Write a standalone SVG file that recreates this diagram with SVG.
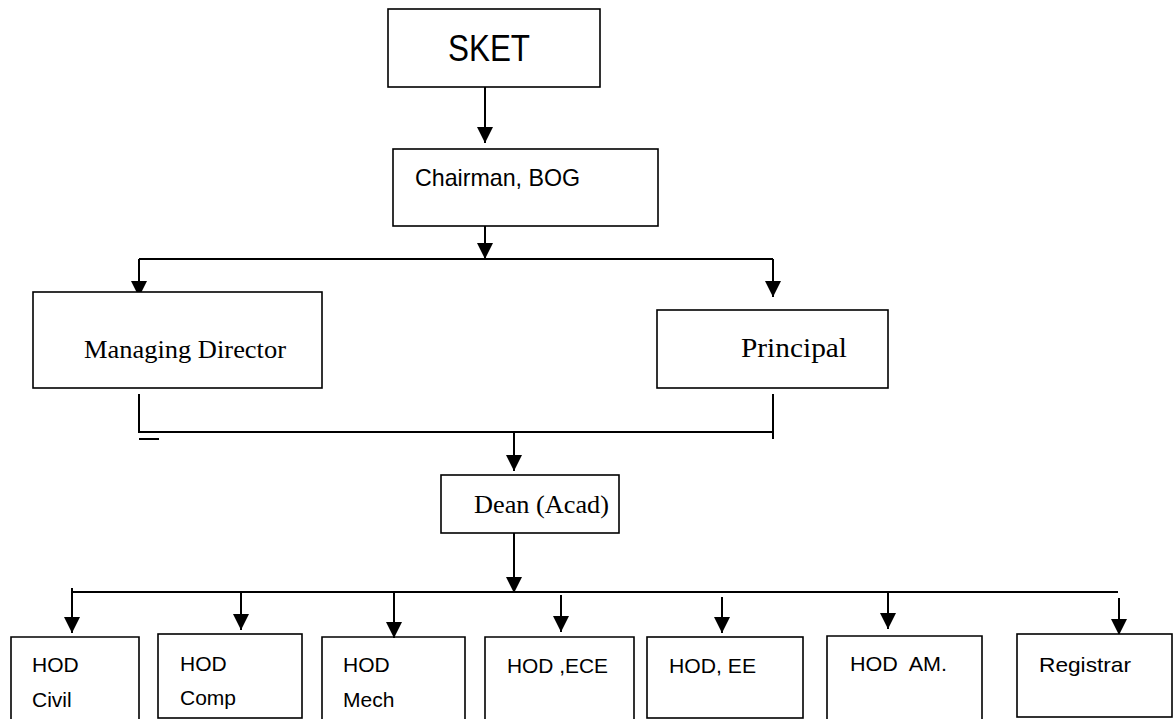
<svg xmlns="http://www.w3.org/2000/svg" width="1176" height="719" viewBox="0 0 1176 719">
<style>
.box{fill:#fff;stroke:#000;stroke-width:1.6}
.open{fill:none;stroke:#000;stroke-width:1.6}
.c{fill:none;stroke:#000;stroke-width:2}
.sans{font-family:"Liberation Sans",Arial,sans-serif;fill:#000}
.serif{font-family:"Liberation Serif","Times New Roman",serif;fill:#000}
.s20{font-size:21px}
</style>
<defs>
<marker id="ah" markerUnits="userSpaceOnUse" markerWidth="16" markerHeight="16" viewBox="0 0 15 15" refX="15" refY="7.5" orient="auto">
<path d="M0,0 L15,7.5 L0,15 z" fill="#000"/>
</marker>
</defs>
<rect width="1176" height="719" fill="#fff"/>
<g id="connectors">
<path class="c" d="M485,87 V143" marker-end="url(#ah)"/>
<path class="c" d="M485,226 V259" marker-end="url(#ah)"/>
<path class="c" d="M139,259 H773"/>
<path class="c" d="M139,259 V297" marker-end="url(#ah)"/>
<path class="c" d="M773,259 V297" marker-end="url(#ah)"/>
<path class="c" d="M139,394 V432 H773"/>
<path class="c" d="M773,394 V439"/>
<path class="c" d="M139,439 H159"/>
<path class="c" d="M514,432 V471" marker-end="url(#ah)"/>
<path class="c" d="M514,529 V593" marker-end="url(#ah)"/>
<path class="c" d="M72,588 V592 H1118"/>
<path class="c" d="M72,592 V633" marker-end="url(#ah)"/>
<path class="c" d="M241,592 V630" marker-end="url(#ah)"/>
<path class="c" d="M394,592 V638" marker-end="url(#ah)"/>
<path class="c" d="M561,595 V632" marker-end="url(#ah)"/>
<path class="c" d="M722,597 V633" marker-end="url(#ah)"/>
<path class="c" d="M888,592 V629" marker-end="url(#ah)"/>
<path class="c" d="M1119,598 V635" marker-end="url(#ah)"/>
</g>
<g id="sket">
<rect class="box" x="388" y="9" width="212" height="78"/>
<text class="sans" x="448" y="61" font-size="37" textLength="82" lengthAdjust="spacingAndGlyphs">SKET</text>
</g>
<g id="chairman">
<rect class="box" x="393" y="149" width="265" height="77"/>
<text class="sans" x="415" y="186" font-size="24" textLength="165" lengthAdjust="spacingAndGlyphs">Chairman, BOG</text>
</g>
<g id="managing-director">
<rect class="box" x="33" y="292" width="289" height="96"/>
<text class="serif" x="84" y="358" font-size="26" textLength="202" lengthAdjust="spacingAndGlyphs">Managing Director</text>
</g>
<g id="principal">
<rect class="box" x="657" y="310" width="231" height="78"/>
<text class="serif" x="741" y="357" font-size="28" textLength="106" lengthAdjust="spacingAndGlyphs">Principal</text>
</g>
<g id="dean">
<rect class="box" x="441" y="475" width="178" height="58"/>
<text class="serif" x="474" y="513" font-size="26" textLength="135" lengthAdjust="spacingAndGlyphs">Dean (Acad)</text>
</g>
<g id="hod-civil">
<path class="open" d="M11,730 V637 H139 V730"/>
<text class="sans s20" x="32" y="672">HOD</text>
<text class="sans s20" x="32" y="707">Civil</text>
</g>
<g id="hod-comp">
<rect class="box" x="158" y="634" width="144" height="84"/>
<text class="sans s20" x="180" y="671">HOD</text>
<text class="sans s20" x="180" y="705">Comp</text>
</g>
<g id="hod-mech">
<path class="open" d="M322,730 V637 H465 V730"/>
<text class="sans s20" x="343" y="672">HOD</text>
<text class="sans s20" x="343" y="707">Mech</text>
</g>
<g id="hod-ece">
<path class="open" d="M485,730 V637 H634 V730"/>
<text class="sans s20" x="507" y="673" textLength="101" lengthAdjust="spacingAndGlyphs">HOD ,ECE</text>
</g>
<g id="hod-ee">
<rect class="box" x="647" y="637" width="156" height="81"/>
<text class="sans s20" x="669" y="673" textLength="87" lengthAdjust="spacingAndGlyphs">HOD, EE</text>
</g>
<g id="hod-am">
<path class="open" d="M827,730 V636 H982 V730"/>
<text class="sans s20" x="850" y="671" xml:space="preserve" textLength="97" lengthAdjust="spacingAndGlyphs">HOD  AM.</text>
</g>
<g id="registrar">
<rect class="box" x="1017" y="634" width="155" height="83"/>
<text class="sans s20" x="1039" y="672" textLength="92" lengthAdjust="spacingAndGlyphs">Registrar</text>
</g>
</svg>
